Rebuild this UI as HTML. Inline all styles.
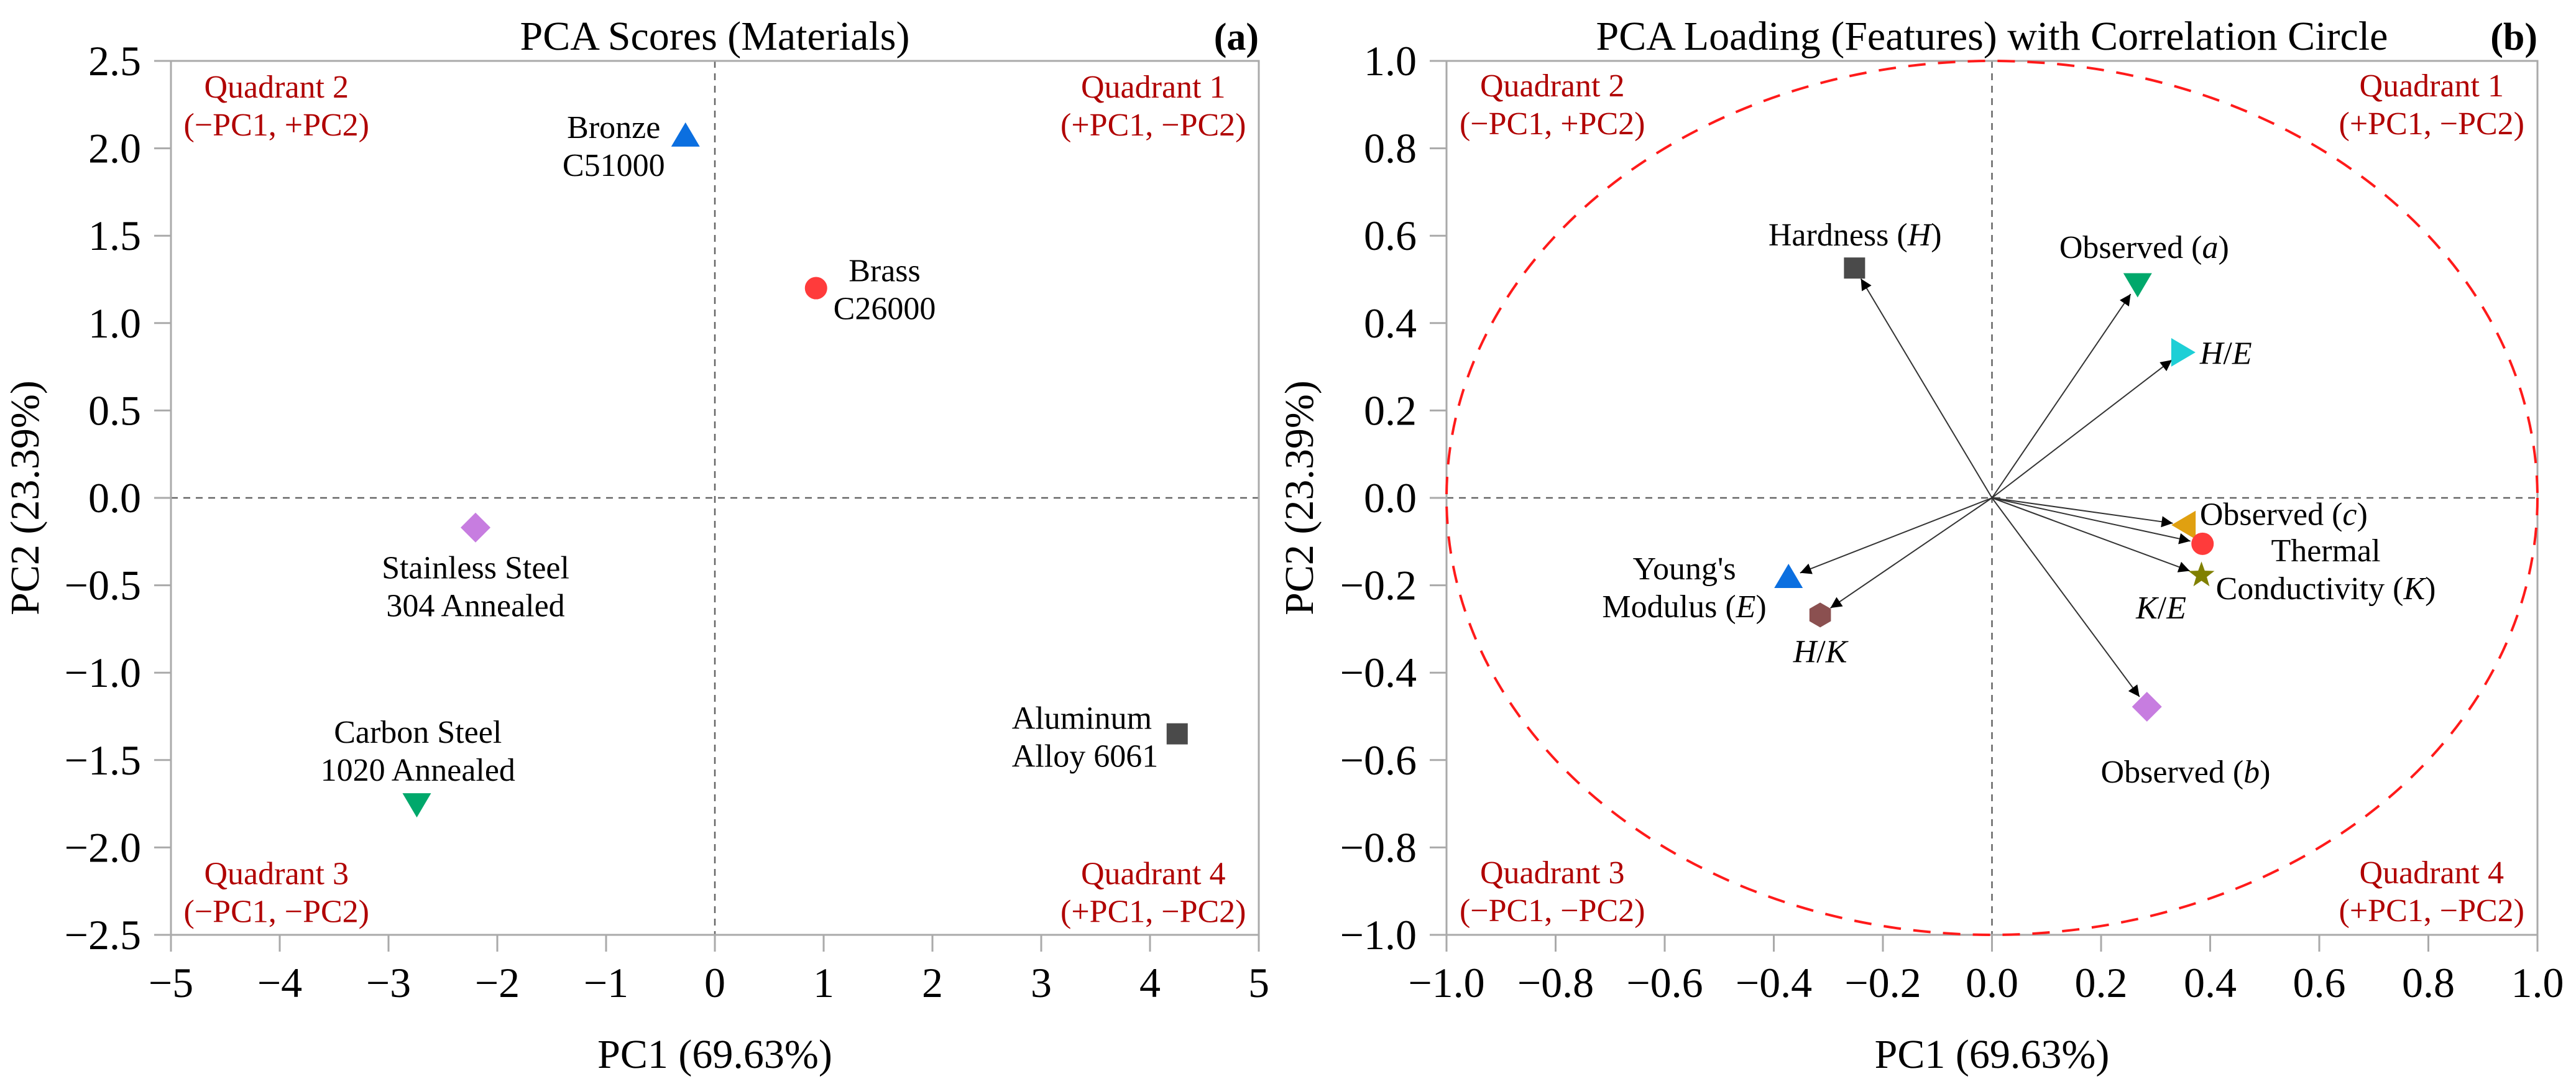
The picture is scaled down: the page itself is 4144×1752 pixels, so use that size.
<!DOCTYPE html>
<html><head><meta charset="utf-8"><style>
html,body{margin:0;padding:0;background:#fff;}
svg{display:block;}
svg text{font-family:"Liberation Serif","DejaVu Serif",serif;}
</style></head><body>
<svg id="pcaChartSvg" width="4144" height="1752" viewBox="0 0 4144 1752" xmlns="http://www.w3.org/2000/svg" font-family="Liberation Serif, serif">
<defs>
<marker id="pcaArrowHead" viewBox="0 0 10 10" refX="10" refY="5" markerWidth="30" markerHeight="18" markerUnits="userSpaceOnUse" orient="auto"><path d="M0,0 L10,5 L0,10 z" fill="#000"/></marker>
</defs>
</svg>
<script>
// ---- Panel (a) data: PCA scores ----
var scorePC1 = [-0.27, 0.93, -2.2, -2.74, 4.25];
var scorePC2 = [2.07, 1.2, -0.17, -1.75, -1.35];
var scoreShapes = ["tri-up","circle","diamond","tri-down","square"];
var scoreColors = ["#0b6fe0","#ff3b3b","#c77de0","#00a86b","#4a4a4a"];
var scoreLabelL1 = ["Bronze","Brass","Stainless Steel","Carbon Steel","Aluminum"];
var scoreLabelL2 = ["C51000","C26000","304 Annealed","1020 Annealed","Alloy 6061"];
var scoreLabelX = [-0.93, 1.56, -2.2, -2.73, 2.73];
var scoreLabelY = [2.12, 1.30, -0.40, -1.34, -1.26];
var scoreLabelAnchor = ["middle","middle","middle","middle","start"];
var xTicksA = [-5,-4,-3,-2,-1,0,1,2,3,4,5];
var yTicksA = [-2.5,-2.0,-1.5,-1.0,-0.5,0.0,0.5,1.0,1.5,2.0,2.5];

// ---- Panel (b) data: loadings ----
var loadPC1 = [-0.252, 0.267, 0.348, 0.354, 0.386, 0.384, 0.284, -0.373, -0.315];
var loadPC2 = [0.526, 0.49, 0.333, -0.062, -0.105, -0.177, -0.478, -0.182, -0.268];
var loadShapes = ["square","tri-down","tri-right","tri-left","circle","star","diamond","tri-up","hexagon"];
var loadColors = ["#4a4a4a","#00a86b","#1ecfd6","#e0a010","#ff3b3b","#808000","#c77de0","#0b6fe0","#8b5050"];
var loadLabelX = [-0.251, 0.279, 0.381, 0.381, 0.612, 0.310, 0.355, -0.564, -0.315];
var loadLabelY = [0.602, 0.573, 0.331, -0.038, -0.121, -0.252, -0.627, -0.162, -0.352];
var xTicksB = [-1.0,-0.8,-0.6,-0.4,-0.2,0.0,0.2,0.4,0.6,0.8,1.0];
var yTicksB = [-1.0,-0.8,-0.6,-0.4,-0.2,0.0,0.2,0.4,0.6,0.8,1.0];

(function(){
var NSP = "http://www.w3.org/2000/svg";
var FONT = "Liberation Serif, DejaVu Serif, serif";
var root = document.getElementById('pcaChartSvg');
function mk(tag, attrs, parent, text){
  var e = document.createElementNS(NSP, tag);
  for (var k in attrs) e.setAttribute(k, attrs[k]);
  if (tag === "text") e.setAttribute("font-family", FONT);
  if (text !== undefined) e.textContent = text;
  (parent||root).appendChild(e);
  return e;
}
function fmt(v, d){ var s = Math.abs(v).toFixed(d); return (v < -1e-9 ? "\u2212" : "") + s; }

function drawMarker(g, shape, cx, cy, color){
  var m, p, i, a, r;
  if (shape === "circle") m = mk("circle",{cx:cx,cy:cy,r:18,fill:color},g);
  else if (shape === "square") m = mk("rect",{x:cx-17,y:cy-17,width:34,height:34,fill:color},g);
  else if (shape === "diamond") m = mk("polygon",{points:cx+","+(cy-24)+" "+(cx+24)+","+cy+" "+cx+","+(cy+24)+" "+(cx-24)+","+cy,fill:color},g);
  else if (shape === "tri-up") m = mk("polygon",{points:cx+","+(cy-22)+" "+(cx+23)+","+(cy+17)+" "+(cx-23)+","+(cy+17),fill:color},g);
  else if (shape === "tri-down") m = mk("polygon",{points:cx+","+(cy+22)+" "+(cx+23)+","+(cy-17)+" "+(cx-23)+","+(cy-17),fill:color},g);
  else if (shape === "tri-right") m = mk("polygon",{points:(cx+22)+","+cy+" "+(cx-17)+","+(cy+23)+" "+(cx-17)+","+(cy-23),fill:color},g);
  else if (shape === "tri-left") m = mk("polygon",{points:(cx-22)+","+cy+" "+(cx+17)+","+(cy+23)+" "+(cx+17)+","+(cy-23),fill:color},g);
  else if (shape === "hexagon"){
    p=[]; for(i=0;i<6;i++){a=Math.PI/6+i*Math.PI/3; p.push((cx+20*Math.cos(a)).toFixed(1)+","+(cy+20*Math.sin(a)).toFixed(1));}
    m = mk("polygon",{points:p.join(" "),fill:color},g);
  } else {
    p=[]; for(i=0;i<10;i++){a=-Math.PI/2+i*Math.PI/5; r=i%2?9:22; p.push((cx+r*Math.cos(a)).toFixed(1)+","+(cy+r*Math.sin(a)).toFixed(1));}
    m = mk("polygon",{points:p.join(" "),fill:color},g);
  }
  return m;
}

function panel(cfg){
  var g = mk("g",{});
  
  
  var L=cfg.L,R=cfg.R,T=98,B=1504;
  var sx = function(v){ return L + (v - cfg.xmin)/(cfg.xmax-cfg.xmin)*(R-L); };
  var sy = function(v){ return B - (v - cfg.ymin)/(cfg.ymax-cfg.ymin)*(B-T); };
  cfg.sx = sx; cfg.sy = sy;
  var zx = mk("line",{x1:sx(0),y1:T,x2:sx(0),y2:B,stroke:"#666","stroke-width":2.5,"stroke-dasharray":"11 9"},g);
  
  
  var zy = mk("line",{x1:L,y1:sy(0),x2:R,y2:sy(0),stroke:"#666","stroke-width":2.5,"stroke-dasharray":"11 9"},g);
  
  
  var fr = mk("rect",{x:L,y:T,width:R-L,height:B-T,fill:"none",stroke:"#aaaaaa","stroke-width":3},g);
  
  
  var xg = mk("g",{},g);
  
  
  cfg.xticks.forEach(function(v){
    mk("line",{x1:sx(v),y1:B,x2:sx(v),y2:B+27,stroke:"#aaaaaa","stroke-width":3},xg);
    var t = mk("text",{x:sx(v),y:B+100,"font-size":68,"text-anchor":"middle",fill:"#000"},xg,fmt(v,cfg.xd));
    
    
  });
  var yg = mk("g",{},g);
  
  
  cfg.yticks.forEach(function(v){
    mk("line",{x1:L-27,y1:sy(v),x2:L,y2:sy(v),stroke:"#aaaaaa","stroke-width":3},yg);
    var t = mk("text",{x:L-48,y:sy(v)+23,"font-size":68,"text-anchor":"end",fill:"#000"},yg,fmt(v,cfg.yd));
    
    
  });
  var xt = mk("text",{x:(L+R)/2,y:1718,"font-size":66,"text-anchor":"middle"},g,"PC1 (69.63%)");
  
  
  var yx = cfg.ytx, yy = (T+B)/2;
  var yt = mk("text",{x:yx,y:yy,"font-size":66,"text-anchor":"middle",transform:"rotate(-90 "+yx+" "+yy+")"},g,"PC2 (23.39%)");
  
  
  var ti = mk("text",{x:(L+R)/2,y:80,"font-size":66,"text-anchor":"middle"},g,cfg.title);
  
  
  var pl = mk("text",{x:R,y:80,"font-size":62,"font-weight":"bold","text-anchor":"end"},g,cfg.tag);
  
  
  var q = [["Quadrant 2","(\u2212PC1, +PC2)",cfg.qx[0],cfg.qy[0]],["Quadrant 1","(+PC1, \u2212PC2)",cfg.qx[1],cfg.qy[0]],
           ["Quadrant 3","(\u2212PC1, \u2212PC2)",cfg.qx[0],cfg.qy[1]],["Quadrant 4","(+PC1, \u2212PC2)",cfg.qx[1],cfg.qy[1]]];
  q.forEach(function(a){
    var t = mk("text",{x:sx(a[2]),y:sy(a[3])+17,"font-size":52,"text-anchor":"middle",fill:"#b00000"},g);
    
    
    mk("tspan",{x:sx(a[2]),dy:0},t,a[0]);
    mk("tspan",{x:sx(a[2]),dy:61},t,a[1]);
  });
  return g;
}

// Panel A
var A = {name:"scores-panel",L:275,R:2025,xmin:-5,xmax:5,ymin:-2.5,ymax:2.5,xticks:xTicksA,yticks:yTicksA,xd:0,yd:1,
  ytx:62,title:"PCA Scores (Materials)",tag:"(a)",qx:[-4.03,4.03],qy:[2.35,-2.15]};
var gA = panel(A);
scorePC1.forEach(function(v,i){
  var m = drawMarker(gA, scoreShapes[i], A.sx(v), A.sy(scorePC2[i]), scoreColors[i]);
  
  
  var lx = A.sx(scoreLabelX[i]);
  var t = mk("text",{x:lx,y:A.sy(scoreLabelY[i])+17,"font-size":52,"text-anchor":scoreLabelAnchor[i]},gA);
  
  
  mk("tspan",{x:lx,dy:0},t,scoreLabelL1[i]);
  mk("tspan",{x:lx,dy:61},t,scoreLabelL2[i]);
});

// Panel B
var P = {name:"loadings-panel",L:2327,R:4082,xmin:-1,xmax:1,ymin:-1,ymax:1,xticks:xTicksB,yticks:yTicksB,xd:1,yd:1,
  ytx:2112,title:"PCA Loading (Features) with Correlation Circle",tag:"(b)",qx:[-0.806,0.806],qy:[0.943,-0.858]};
var gB = panel(P);
var circ = mk("ellipse",{cx:P.sx(0),cy:P.sy(0),rx:P.sx(1)-P.sx(0),ry:P.sy(0)-P.sy(1),fill:"none",stroke:"#ff1a1a","stroke-width":4,"stroke-dasharray":"28 20"},gB);


loadPC1.forEach(function(v,i){
  var x0=P.sx(0), y0=P.sy(0), x1=P.sx(v), y1=P.sy(loadPC2[i]);
  var dx=x1-x0, dy=y1-y0, len=Math.sqrt(dx*dx+dy*dy), k=(len-20)/len;
  var a = mk("line",{x1:x0,y1:y0,x2:x0+dx*k,y2:y0+dy*k,stroke:"#333","stroke-width":2,"marker-end":"url(#pcaArrowHead)"},gB);
  
  
});
loadPC1.forEach(function(v,i){
  var m = drawMarker(gB, loadShapes[i], P.sx(v), P.sy(loadPC2[i]), loadColors[i]);
  
  
});
var labLines = [
  [[["Hardness (",0],["H",1],[")",0]]], [[["Observed (",0],["a",1],[")",0]]], [[["H",1],["/",0],["E",1]]],
  [[["Observed (",0],["c",1],[")",0]]], [[["Thermal",0]],[["Conductivity (",0],["K",1],[")",0]]],
  [[["K",1],["/",0],["E",1]]], [[["Observed (",0],["b",1],[")",0]]],
  [[["Young's",0]],[["Modulus (",0],["E",1],[")",0]]], [[["H",1],["/",0],["K",1]]]
];
var labAnchor = ["middle","middle","start","start","middle","middle","middle","middle","middle"];
labLines.forEach(function(lines, i){
  var x=P.sx(loadLabelX[i]), y=P.sy(loadLabelY[i])+17;
  var t = mk("text",{x:x,y:y,"font-size":52,"text-anchor":labAnchor[i]},gB);
  
  
  lines.forEach(function(ln,j){
    ln.forEach(function(seg,s){
      var at = {};
      if (s===0){ at.x=x; at.dy = j===0?0:61; }
      if (seg[1]) at["font-style"]="italic";
      mk("tspan",at,t,seg[0]);
    });
  });
});
})();
</script>
</body></html>
